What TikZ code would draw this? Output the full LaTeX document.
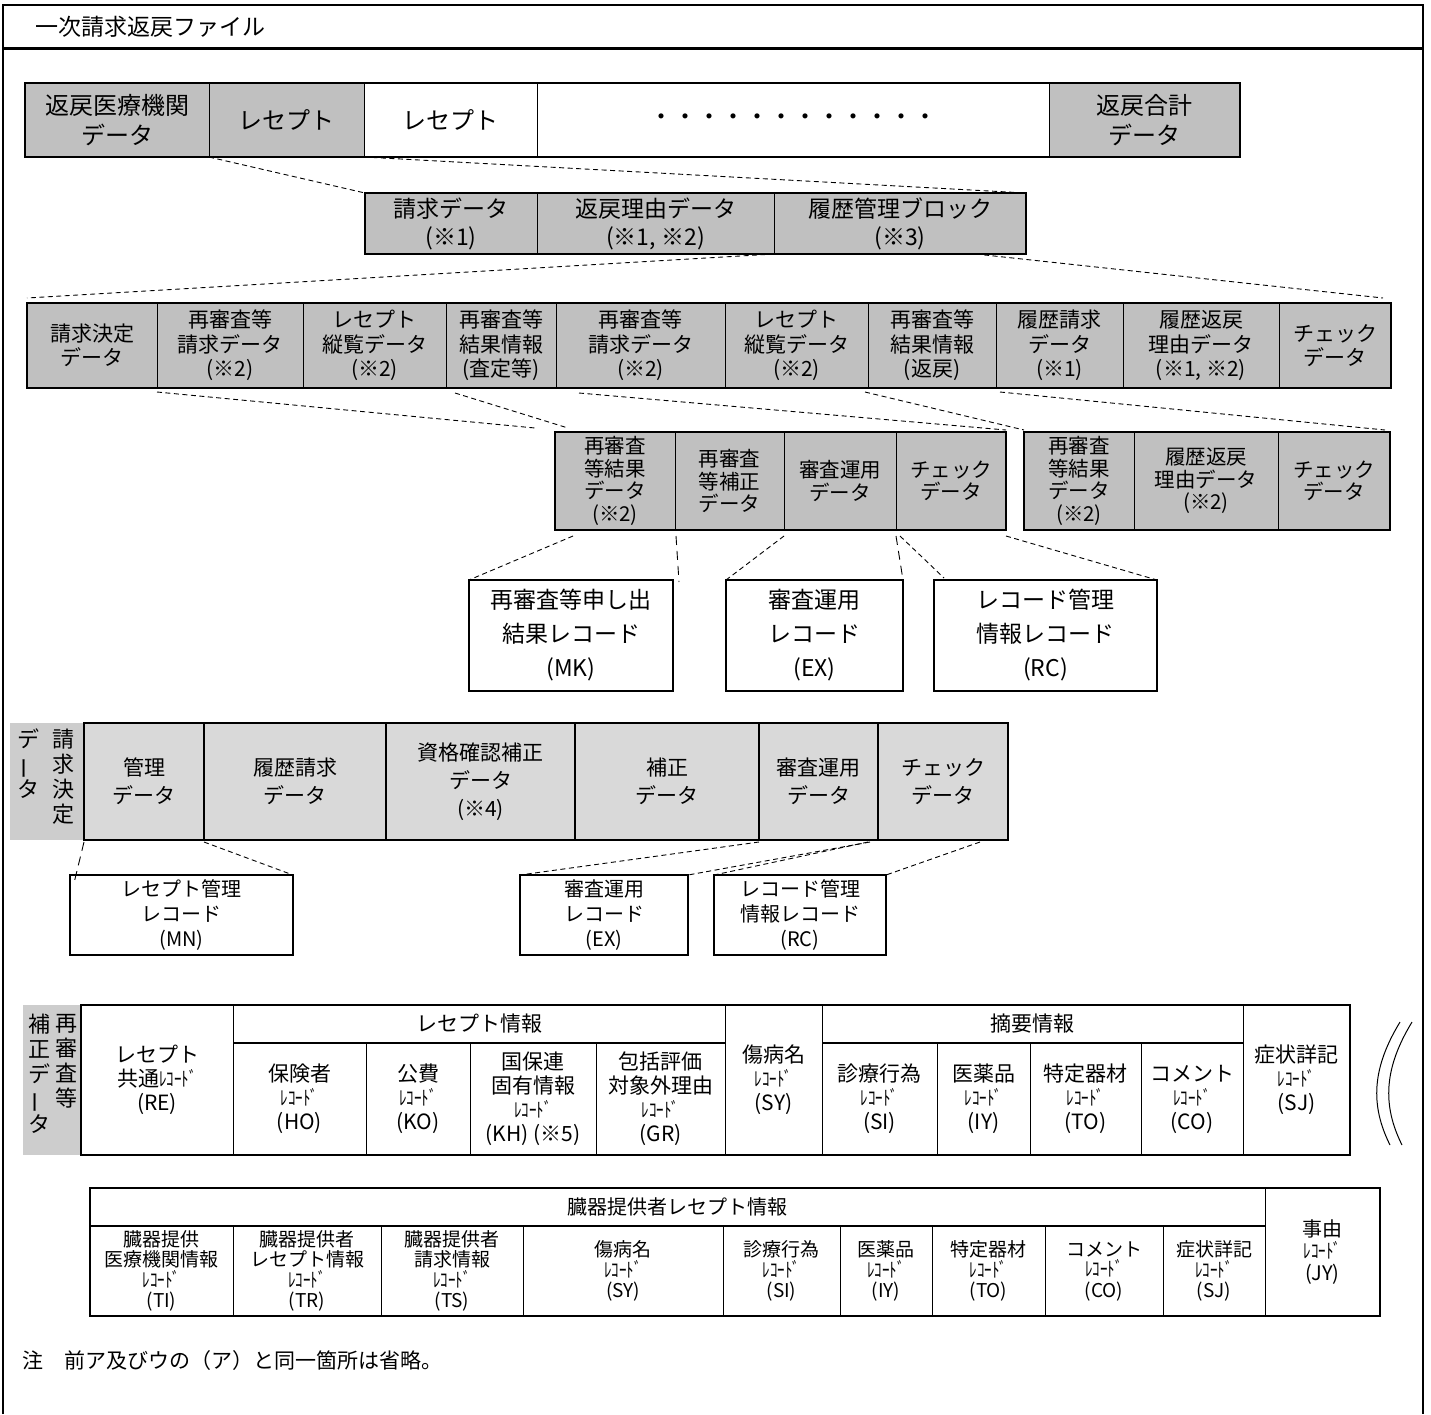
\documentclass[tikz,border=0pt]{standalone}
\usepackage{fontspec}
\usepackage{graphicx}
\setmainfont{Noto Sans CJK JP}
\usetikzlibrary{calc}
\definecolor{cellgray}{RGB}{192,192,192}
\definecolor{cellpale}{RGB}{217,217,217}
\definecolor{labelgray}{RGB}{205,205,205}
\newcommand{\rec}{{\scalebox{0.75}[1]{\fontsize{20}{20}\selectfont ﾚｺｰﾄﾞ}}}
\newcommand{\vbar}{\rotatebox[origin=c]{90}{ー}}
\tikzset{
	cell/.style={draw,line width=0.9pt,inner sep=0pt,outer sep=0pt,align=center},
	grayc/.style={cell,fill=cellgray},
	whitec/.style={cell,fill=white},
	palec/.style={cell,fill=cellpale,line width=1.4pt},
	tablec/.style={cell,fill=white,line width=1pt},
	recbox/.style={draw,line width=2.2pt,fill=white,inner sep=0pt,outer sep=0pt,align=center},
	labelc/.style={fill=labelgray,inner sep=0pt,outer sep=0pt},
	vtext/.style={inner sep=0pt,align=center,anchor=north,font=\fontsize{22}{25}\selectfont},
	outline/.style={line width=2.4pt},
	link/.style={line width=0.9pt,dash pattern=on 5pt off 3.5pt},
	linklong/.style={line width=0.9pt,dash pattern=on 9pt off 6pt},
}
\begin{document}
\begin{tikzpicture}[x=1pt,y=-1pt]
	\useasboundingbox (0,0) rectangle (1431,1414);
	\draw[line width=1.5pt] (3,1414) -- (3,5) -- (1423,5) -- (1423,1414);
	\draw[line width=3pt] (3,48) -- (1423,48);
	\node[anchor=west,inner sep=0pt,font=\fontsize{23}{28}\selectfont] (title) at (35,27) {一次請求返戻ファイル};

	\foreach \n/\xa/\xb/\sty/\txt in {r1a/25/209/grayc/{返戻医療機関\\データ},r1b/209/364/grayc/{レセプト},r1c/364/537/whitec/{レセプト},r1d/537/1049/whitec/{・・・・・・・・・・・・},r1e/1049/1240/grayc/{返戻合計\\データ}}
		\node[\sty,minimum width=\xb-\xa,minimum height=74,font=\fontsize{24}{30}\selectfont] (\n) at ({(\xa+\xb)/2},120) {\txt};
	\draw[outline] (r1a.north west) rectangle (r1e.south east);

	\foreach \n/\xa/\xb/\txt in {r2a/365/537/{請求データ\\(※1)},r2b/537/774/{返戻理由データ\\(※1, ※2)},r2c/774/1026/{履歴管理ブロック\\(※3)}}
		\node[grayc,minimum width=\xb-\xa,minimum height=61,font=\fontsize{23}{28}\selectfont] (\n) at ({(\xa+\xb)/2},223.5) {\txt};
	\draw[outline] (r2a.north west) rectangle (r2c.south east);

	\foreach \n/\xa/\xb/\txt in {r3a/27/157/{請求決定\\データ},r3b/157/303/{再審査等\\請求データ\\(※2)},r3c/303/446/{レセプト\\縦覧データ\\(※2)},r3d/446/556/{再審査等\\結果情報\\(査定等)},r3e/556/725/{再審査等\\請求データ\\(※2)},r3f/725/868/{レセプト\\縦覧データ\\(※2)},r3g/868/996/{再審査等\\結果情報\\(返戻)},r3h/996/1123/{履歴請求\\データ\\(※1)},r3i/1123/1279/{履歴返戻\\理由データ\\(※1, ※2)},r3j/1279/1391/{チェック\\データ}}
		\node[grayc,minimum width=\xb-\xa,minimum height=85,font=\fontsize{21}{24.5}\selectfont] (\n) at ({(\xa+\xb)/2},345.5) {\txt};
	\draw[outline] (r3a.north west) rectangle (r3j.south east);

	\foreach \n/\xa/\xb/\txt in {r4a/555/675/{再審査\\等結果\\データ\\(※2)},r4b/675/784/{再審査\\等補正\\データ},r4c/784/896/{審査運用\\データ},r4d/896/1006/{チェック\\データ},r4e/1024/1134/{再審査\\等結果\\データ\\(※2)},r4f/1134/1278/{履歴返戻\\理由データ\\(※2)},r4g/1278/1390/{チェック\\データ}}
		\node[grayc,minimum width=\xb-\xa,minimum height=98,font=\fontsize{20.5}{22.5}\selectfont] (\n) at ({(\xa+\xb)/2},481) {\txt};
	\draw[outline] (r4a.north west) rectangle (r4d.south east);
	\draw[outline] (r4e.north west) rectangle (r4g.south east);

	\foreach \n/\xa/\xb/\txt in {mk/469/673/{再審査等申し出\\結果レコード\\(MK)},ex/726/903/{審査運用\\レコード\\(EX)},rc/934/1157/{レコード管理\\情報レコード\\(RC)}}
		\node[recbox,minimum width=\xb-\xa,minimum height=111,font=\fontsize{23}{34}\selectfont] (\n) at ({(\xa+\xb)/2},635.5) {\txt};

	\node[labelc,minimum width=74,minimum height=117] (s6l) at (47,781.5) {};
	\node[vtext] (s6v1) at (63,729) {請\\求\\決\\定};
	\node[vtext] (s6v2) at (28,729) {デ\\\vbar\\タ};
	\foreach \n/\xa/\xb/\txt in {s6a/84/204/{管理\\データ},s6b/204/386/{履歴請求\\データ},s6c/386/575/{資格確認補正\\データ\\(※4)},s6d/575/759/{補正\\データ},s6e/759/878/{審査運用\\データ},s6f/878/1008/{チェック\\データ}}
		\node[palec,minimum width=\xb-\xa,minimum height=117,font=\fontsize{21}{28}\selectfont] (\n) at ({(\xa+\xb)/2},781.5) {\txt};
	\draw[outline] (s6a.north west) -- (s6f.north east);

	\foreach \n/\xa/\xb/\txt in {mn/70/293/{レセプト管理\\レコード\\(MN)},ex2/520/688/{審査運用\\レコード\\(EX)},rc2/714/886/{レコード管理\\情報レコード\\(RC)}}
		\node[recbox,minimum width=\xb-\xa,minimum height=80,font=\fontsize{20}{25}\selectfont] (\n) at ({(\xa+\xb)/2},915) {\txt};

	\node[labelc,minimum width=58,minimum height=150] (t8l) at (52,1080) {};
	\node[vtext] (t8v1) at (66,1014) {再\\審\\査\\等};
	\node[vtext] (t8v2) at (39,1014) {補\\正\\デ\\\vbar\\タ};
	\foreach \n/\xa/\xb/\txt in {t8re/81/233/{レセプト\\共通\rec\\(RE)},t8sy/725/822/{傷病名\\\rec\\(SY)},t8sj/1243/1350/{症状詳記\\\rec\\(SJ)}}
		\node[tablec,minimum width=\xb-\xa,minimum height=150,font=\fontsize{21}{24}\selectfont] (\n) at ({(\xa+\xb)/2},1080) {\txt};
	\foreach \n/\xa/\xb/\txt in {t8h1/233/725/{レセプト情報},t8h2/822/1243/{摘要情報}}
		\node[tablec,minimum width=\xb-\xa,minimum height=38,font=\fontsize{21}{24}\selectfont] (\n) at ({(\xa+\xb)/2},1024) {\txt};
	\foreach \n/\xa/\xb/\txt in {t8ho/233/366/{保険者\\\rec\\(HO)},t8ko/366/470/{公費\\\rec\\(KO)},t8kh/470/596/{国保連\\固有情報\\\rec\\(KH)\ (※5)},t8gr/596/725/{包括評価\\対象外理由\\\rec\\(GR)},t8si/822/937/{診療行為\\\rec\\(SI)},t8iy/937/1030/{医薬品\\\rec\\(IY)},t8to/1030/1141/{特定器材\\\rec\\(TO)},t8co/1141/1243/{コメント\\\rec\\(CO)}}
		\node[tablec,minimum width=\xb-\xa,minimum height=112,font=\fontsize{21}{24}\selectfont] (\n) at ({(\xa+\xb)/2},1099) {\txt};
	\draw[outline] (t8re.north west) rectangle (t8sj.south east);
	\draw[outline] (t8h1.south west) -- (t8h1.south east);
	\draw[outline] (t8h2.south west) -- (t8h2.south east);
	\draw[line width=1pt] (1400,1022) .. controls (1372,1068) and (1370,1105) .. (1390,1145);
	\draw[line width=1pt] (1412,1022) .. controls (1384,1068) and (1382,1105) .. (1402,1145);

	\node[tablec,minimum width=1175,minimum height=38,font=\fontsize{20}{22}\selectfont] (t9h) at (677.5,1207) {臓器提供者レセプト情報};
	\node[tablec,minimum width=115,minimum height=128,font=\fontsize{20}{22}\selectfont] (t9jy) at (1322.5,1252) {事由\\\rec\\(JY)};
	\foreach \n/\xa/\xb/\txt in {t9ti/90/233/{臓器提供\\医療機関情報\\\rec\\(TI)},t9tr/233/381/{臓器提供者\\レセプト情報\\\rec\\(TR)},t9ts/381/523/{臓器提供者\\請求情報\\\rec\\(TS)},t9sy/523/723/{傷病名\\\rec\\(SY)},t9si/723/840/{診療行為\\\rec\\(SI)},t9iy/840/932/{医薬品\\\rec\\(IY)},t9to/932/1045/{特定器材\\\rec\\(TO)},t9co/1045/1163/{コメント\\\rec\\(CO)},t9sj/1163/1265/{症状詳記\\\rec\\(SJ)}}
		\node[tablec,minimum width=\xb-\xa,minimum height=90,font=\fontsize{19}{20.5}\selectfont] (\n) at ({(\xa+\xb)/2},1271) {\txt};
	\draw[outline] (t9h.north west) rectangle (t9jy.south east);
	\draw[outline] (t9h.south west) -- (t9h.south east);

	\node[anchor=west,inner sep=0pt,font=\fontsize{21}{25}\selectfont] (note) at (22,1360) {注　前ア及びウの（ア）と同一箇所は省略。};

	\draw[link] (r1a.south east) -- (r2a.north west);
	\draw[link] (r1b.south east) -- (r2c.north east);
	\draw[link] (r2c.south west) -- ($(r3a.north west)+(0,-5)$);
	\draw[link] ($(r2c.south west)!.8!(r2c.south east)$) -- ($(r3j.north east)+(-8,-5)$);
	\draw[link] ($(r3b.south west)+(0,4)$) -- ($(r4a.north west)+(-20,-4)$);
	\draw[link] ($(r3d.south west)+(9,5)$) -- ($(r4a.north west)+(13,-4)$);
	\draw[link] ($(r3e.south west)+(23,5)$) -- ($(r4d.north east)+(0,-2)$);
	\draw[link] ($(r3g.south west)+(-3,4)$) -- ($(r4e.north west)+(0,-2)$);
	\draw[link] ($(r3h.south west)+(4,4)$) -- ($(r4g.north east)+(-5,-2)$);
	\draw[link] ($(r4a.south west)+(18,6)$) -- (mk.north west);
	\draw[linklong] ($(r4b.south west)+(1,6)$) -- ($(mk.north east)+(6,2)$);
	\draw[link] ($(r4c.south west)+(0,6)$) -- (ex.north west);
	\draw[linklong] ($(r4d.south west)+(0,6)$) -- (ex.north east);
	\draw[link] ($(r4d.south west)+(4,6)$) -- ($(rc.north west)+(10,-2)$);
	\draw[link] ($(r4d.south east)+(0,6)$) -- (rc.north east);
	\draw[linklong] ($(s6a.south west)+(0,2)$) -- ($(mn.north west)+(4,8)$);
	\draw[link] ($(s6b.south west)+(0,2)$) -- (mn.north east);
	\draw[link] ($(s6d.south east)+(0,2)$) -- (ex2.north west);
	\draw[link] ($(s6e.south east)+(-8,2)$) -- (ex2.north east);
	\draw[link] ($(s6e.south east)+(-10,2)$) -- (rc2.north west);
	\draw[link] ($(s6f.south east)+(-28,2)$) -- (rc2.north east);
\end{tikzpicture}
\end{document}
